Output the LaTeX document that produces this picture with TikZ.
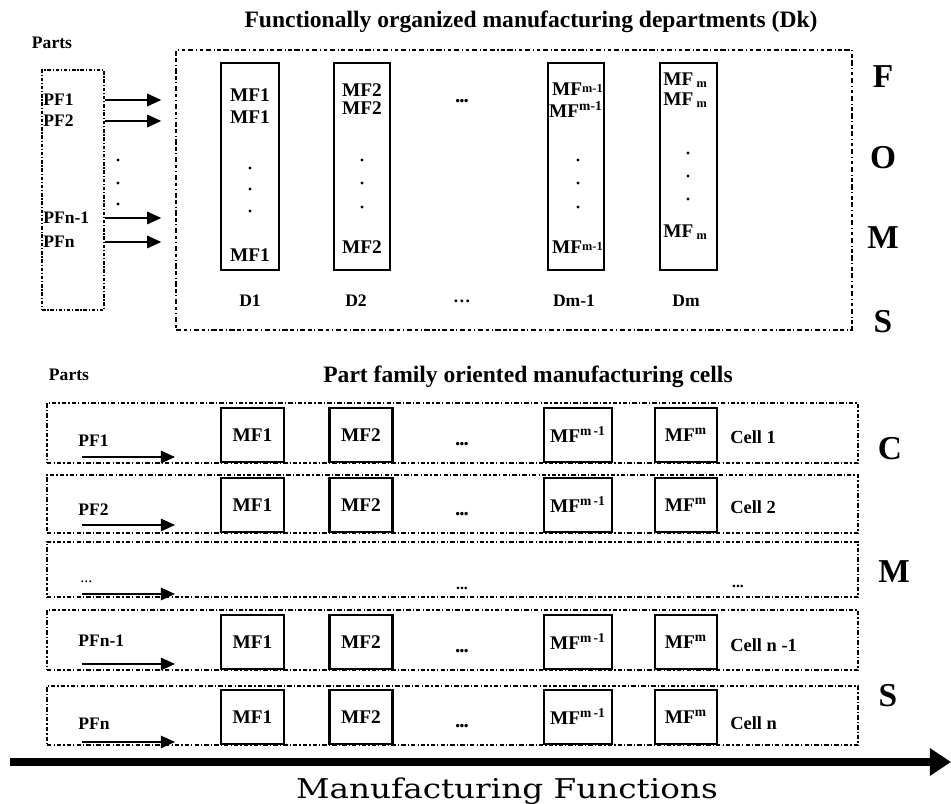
\documentclass[tikz,border=0pt]{standalone}
\usepackage{graphicx}
\usepackage{fontspec}
\setmainfont{Liberation Serif}
\newfontfamily\axisfont{DejaVu Serif}
\usetikzlibrary{arrows.meta, positioning, fit}

\newcommand{\gapdots}{\textbf{.\kern-0.6pt.\kern-0.6pt.}}

\begin{document}
\begin{tikzpicture}[x=0.02cm, y=-0.02cm,
  lbl/.style={font=\fontsize{10}{12}\selectfont\bfseries, inner sep=0pt},
  mflabel/.style={font=\fontsize{11}{13}\selectfont\bfseries, inner sep=0pt},
  heading/.style={font=\fontsize{13.4}{16}\selectfont\bfseries, inner sep=0pt},
  sysletter/.style={font=\fontsize{19}{22}\selectfont\bfseries, inner sep=0pt},
  gap/.style={font=\fontsize{12}{14}\selectfont\bfseries, inner sep=0pt},
  partsbox/.style={draw, line width=1.1pt, dash pattern=on 2pt off 1pt on 0.7pt off 1pt, inner sep=0pt},
  deptbox/.style={draw, line width=0.8pt, dash pattern=on 3pt off 1.5pt on 2pt off 1.5pt on 0.6pt off 1.5pt, inner sep=0pt},
  cellrow/.style={draw, line width=1.1pt, dash pattern=on 2.5pt off 1.2pt on 0.7pt off 1.2pt, inner sep=0pt},
  column/.style={draw, line width=1.2pt, inner sep=0pt},
  machine/.style={draw, line width=1.2pt, minimum width=1.26cm, minimum height=1.08cm, font=\fontsize{11}{13}\selectfont\bfseries, inner sep=0pt},
  flow/.style={-{Triangle[length=8pt, width=7pt]}, line width=1.2pt},
  axis/.style={-{Triangle[length=12pt, width=15pt]}, line width=4pt}
]
\useasboundingbox (0,0) rectangle (951,804);

% Functionally organized layout
\node[lbl] (partsF) at (52,43) {Parts};
\node[heading] (titleF) at (531,22) {Functionally organized manufacturing departments (Dk)};
\node[partsbox, fit={(42,70) (104,310)}] (familiesF) {};
\node[deptbox, fit={(176,50) (852,330)}] (plant) {};

\node[lbl, anchor=west] (pfA) at (43,100) {PF1};
\node[lbl, anchor=west] (pfB) at (43,121) {PF2};
\node[lbl, anchor=west] (pfC) at (43,218) {PFn-1};
\node[lbl, anchor=west] (pfD) at (43,242) {PFn};
\foreach \p in {pfA,pfB,pfC,pfD}
  \draw[flow] (familiesF.east |- \p) -- ([xshift=-0.28cm]plant.west |- \p);
\foreach \y in {160,183,204} \fill (118,\y) circle[radius=0.9pt];

% Departments
\node[column, fit={(221,63) (279,270)}] (dept1) {};
\node[column, fit={(334,63) (390,270)}] (dept2) {};
\node[column, fit={(548,63) (604,270)}] (deptm1) {};
\node[column, fit={(660,63) (717,270)}] (deptm) {};

\node[mflabel] (d1a) at (250,95) {MF1};
\node[mflabel] (d1b) at (250,117) {MF1};
\node[mflabel] (d1c) at (250,255) {MF1};
\node[mflabel] (d2a) at (362,90) {MF2};
\node[mflabel] (d2b) at (362,108) {MF2};
\node[mflabel] (d2c) at (362,247) {MF2};
\node[mflabel, anchor=east] (dm1a) at (603,89) {MF\raisebox{.3ex}{\scriptsize m-1}};
\node[mflabel, anchor=east] (dm1b) at (603,110) {MF\textsuperscript{m-1}};
\node[mflabel, anchor=east] (dm1c) at (603,247) {MF\raisebox{.3ex}{\scriptsize m-1}};
\node[mflabel, anchor=west] (dma) at (663,80) {MF\,\raisebox{-.2ex}{\scriptsize m}};
\node[mflabel, anchor=west] (dmb) at (663,100) {MF\,\raisebox{-.2ex}{\scriptsize m}};
\node[mflabel, anchor=west] (dmc) at (663,232) {MF\,\raisebox{-.2ex}{\scriptsize m}};
\foreach \y in {168,189,211} \fill (250,\y) circle[radius=0.9pt];
\foreach \y in {160,183,207} {
  \fill (362,\y) circle[radius=0.9pt];
  \fill (578,\y) circle[radius=0.9pt];
}
\foreach \y in {153,176,199} \fill (688,\y) circle[radius=0.9pt];
\node[gap] (gapF) at (462,101) {\gapdots};

\node[lbl] (nameD1) at (250,301) {D1};
\node[lbl] (nameD2) at (356,301) {D2};
\node[lbl] (nameDots) at (462,301) {\dots};
\node[lbl] (nameDm1) at (574,301) {Dm-1};
\node[lbl] (nameDm) at (686,301) {Dm};

\node[sysletter] (fF) at (883,77) {F};
\node[sysletter] (fO) at (883,158) {O};
\node[sysletter] (fM) at (883,238) {M};
\node[sysletter] (fS) at (883,322) {S};

% Cellular layout
\node[lbl] (partsC) at (69,375) {Parts};
\node[heading] (titleC) at (528,377) {Part family oriented manufacturing cells};

\foreach \r/\t/\b/\pf/\py/\ay/\cell/\cy in {1/403/463/PF1/441/457/Cell 1/437,
    2/475/533/PF2/510/525/Cell 2/507,
    4/610/670/PFn-1/641/664/Cell n -1/645,
    5/686/745/PFn/724/742/Cell n/723} {
  \node[cellrow, fit={(47,\t) (858,\b)}] (row\r) {};
  \node[lbl, anchor=west] (pf\r) at (78,\py) {\pf};
  \coordinate (in\r) at (82,\ay);
  \coordinate (out\r) at (175,\ay);
  \draw[flow] (in\r) -- (out\r);
  \node[machine, anchor=south] (mfA\r) at (252.5,\b) {MF1};
  \node[machine, anchor=south] (mfB\r) at (361,\b) {MF2};
  \node[machine, anchor=south, minimum width=1.36cm] (mfC\r) at (578,\b) {MF\textsuperscript{m\,-1}};
  \node[machine, anchor=south, minimum width=1.24cm] (mfD\r) at (686,\b) {MF\textsuperscript{m}};
  \node[gap] (gap\r) at (462,\b-19) {\gapdots};
  \node[lbl, font=\fontsize{10.5}{12}\selectfont\bfseries, anchor=west] (cell\r) at (730,\cy) {\cell};
}

\node[cellrow, fit={(47,542) (858,597)}] (row3) {};
\node[lbl, font=\fontsize{9}{11}\selectfont, anchor=west] (pf3) at (80,582) {...};
\coordinate (in3) at (82,594);
\coordinate (out3) at (175,594);
\draw[flow] (in3) -- (out3);
\node[lbl, font=\fontsize{9}{11}\selectfont\bfseries] (gap3) at (462,588) {...};
\node[lbl, font=\fontsize{9}{11}\selectfont\bfseries] (cell3) at (738,586) {...};

\node[sysletter] (cC) at (890,449) {C};
\node[sysletter] (cM) at (894,572) {M};
\node[sysletter] (cS) at (888,696) {S};

% Axis
\coordinate (axisstart) at (10,762);
\coordinate (axisend) at (951,762);
\draw[axis] (axisstart) -- (axisend);
\node[font=\axisfont\fontsize{15.5}{18}\selectfont, inner sep=0pt, anchor=base] (axislabel) at (507,798) {\scalebox{1.2}[1]{Manufacturing Functions}};

\end{tikzpicture}
\end{document}
